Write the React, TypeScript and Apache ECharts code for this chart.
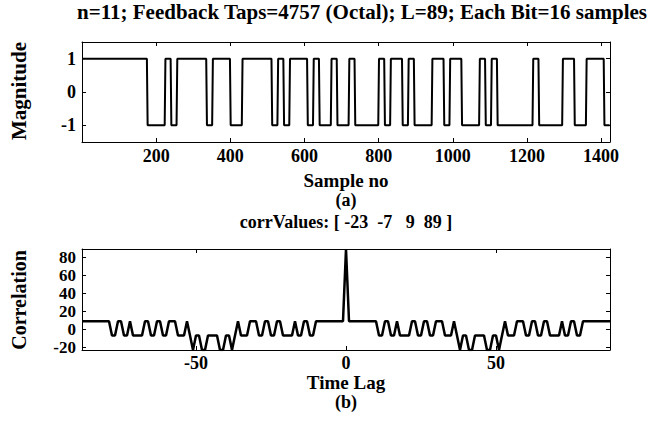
import React, { useEffect, useRef } from "react";
import * as echarts from "echarts";

// ---- data ----
const SAMPLES_PER_BIT = 16;
// 89 chips of the sequence (+1 / -1)
const bits: number[] = [
  1, 1, 1, 1, 1, 1, 1, 1, 1, 1, 1,
  -1, -1, -1,
  1,
  -1,
  1, 1, 1, 1, 1,
  -1,
  1, 1, 1,
  -1, -1,
  1, 1, 1, 1, 1,
  -1,
  1,
  -1,
  1, 1, 1,
  -1,
  1,
  -1, -1,
  1,
  -1, -1,
  1,
  -1, -1, -1, -1,
  1,
  -1,
  1, 1,
  -1,
  1,
  -1, -1, -1,
  1, 1,
  -1,
  1, 1,
  -1, -1, -1,
  1,
  -1,
  1,
  -1, -1, -1, -1, -1, -1,
  1,
  -1, -1, -1, -1,
  1, 1,
  -1, -1,
  1, 1, 1,
  -1,
];

// circular correlation value for lag 0..88
const corrByLag: number[] = [
  89,
  9, 9, 9, 9, 9, 9, 9, 9, 9, 9,
  -7, -7, 9, 9, -7, -7, 9, -7, -7,
  -7, -7, 9, 9, -7, -7, 9, 9, -7, -7,
  9, 9, 9, -7, -7, -7, 9, -7, -23, -7,
  -7, -23, -23, -7, -7, -7, -7, -23, -23, -7,
  -7, -23, -7, 9, -7, -7, -7, 9, 9, 9,
  -7, -7, 9, 9, -7, -7, 9, 9, -7, -7,
  -7, -7, 9, -7, -7, 9, 9, -7, -7, 9,
  9, 9, 9, 9, 9, 9, 9, 9, 9,
];
const maxLag = 88;

const mainTitle = "n=11; Feedback Taps=4757 (Octal); L=89; Each Bit=16 samples";
const corrTitle = "corrValues: [ -23\u00a0\u00a0-7\u00a0\u00a0\u00a09\u00a0\u00a089 ]";
const xLabelA = "Sample no";
const yLabelA = "Magnitude";
const capA = "(a)";
const xLabelB = "Time Lag";
const yLabelB = "Correlation";
const capB = "(b)";

const FONT = "'Liberation Serif', 'Times New Roman', serif";

export default function App() {
  const ref = useRef<HTMLDivElement>(null);

  useEffect(() => {
    if (!ref.current) return;
    const chart = echarts.init(ref.current, undefined, { renderer: "svg" });

    const sig: number[][] = [];
    bits.forEach((v, k) => {
      for (let j = 0; j < SAMPLES_PER_BIT; j++) sig.push([k * SAMPLES_PER_BIT + j + 1, v]);
    });
    const corr: number[][] = [];
    for (let L = -maxLag; L <= maxLag; L++) corr.push([L, corrByLag[Math.abs(L)]]);

    const lbl = {
      color: "#000",
      fontFamily: FONT,
      fontWeight: "bold" as const,
      fontSize: 18,
      lineHeight: 16,
    };
    const line = { show: true, onZero: false, lineStyle: { color: "#000", width: 1 } };
    const tick = { show: true, inside: true, length: 4, lineStyle: { color: "#000", width: 1 } };
    const noSplit = { show: false };

    const text = (
      t: string,
      x: number,
      y: number,
      size: number,
      rot = 0
    ) => ({
      type: "text",
      x,
      y,
      rotation: rot,
      silent: true,
      style: {
        text: t,
        fill: "#000",
        fontFamily: FONT,
        fontWeight: "bold",
        fontSize: size,
        lineHeight: Math.round(size * 0.85),
        textAlign: "center",
        align: "center",
        textVerticalAlign: "middle",
        verticalAlign: "middle",
      },
    });

    chart.setOption({
      animation: false,
      backgroundColor: "#fff",
      grid: [
        { left: 82, top: 42, width: 528, height: 100 },
        { left: 82, top: 249, width: 528, height: 101 },
      ],
      xAxis: [
        {
          gridIndex: 0, type: "value", min: 0, max: 1424, interval: 200, position: "bottom",
          axisLine: line, axisTick: tick, splitLine: noSplit,
          axisLabel: { ...lbl, margin: 6, formatter: (v: number) => (v > 0 && v % 200 === 0 ? String(v) : "") },
        },
        {
          gridIndex: 0, type: "value", min: 0, max: 1424, interval: 200, position: "top",
          axisLine: line, axisTick: tick, splitLine: noSplit, axisLabel: { show: false },
        },
        {
          gridIndex: 1, type: "value", min: -88, max: 88, splitNumber: 3, position: "bottom",
          axisLine: line, axisTick: tick, splitLine: noSplit,
          axisLabel: { ...lbl, margin: 5, formatter: (v: number) => (v % 50 === 0 ? String(v) : "") },
        },
        {
          gridIndex: 1, type: "value", min: -88, max: 88, splitNumber: 3, position: "top",
          axisLine: line, axisTick: tick, splitLine: noSplit, axisLabel: { show: false },
        },
      ],
      yAxis: [
        {
          gridIndex: 0, type: "value", min: -1.5, max: 1.5, splitNumber: 3, position: "left",
          axisLine: line, axisTick: tick, splitLine: noSplit,
          axisLabel: { ...lbl, margin: 6, formatter: (v: number) => (Number.isInteger(v) ? String(v) : "") },
        },
        {
          gridIndex: 0, type: "value", min: -1.5, max: 1.5, splitNumber: 3, position: "right",
          axisLine: line, axisTick: tick, splitLine: noSplit, axisLabel: { show: false },
        },
        {
          gridIndex: 1, type: "value", min: -23, max: 89, splitNumber: 6, position: "left",
          axisLine: line, axisTick: tick, splitLine: noSplit,
          axisLabel: {
            ...lbl, fontSize: 17, lineHeight: 15, margin: 6,
            formatter: (v: number) => (v % 20 === 0 ? String(v) : ""),
          },
        },
        {
          gridIndex: 1, type: "value", min: -23, max: 89, splitNumber: 6, position: "right",
          axisLine: line, axisTick: tick, splitLine: noSplit, axisLabel: { show: false },
        },
      ],
      series: [
        {
          type: "line", xAxisIndex: 0, yAxisIndex: 0, data: sig, symbol: "none",
          lineStyle: { color: "#000", width: 2 }, silent: true,
        },
        {
          type: "line", xAxisIndex: 2, yAxisIndex: 2, data: corr, symbol: "none",
          lineStyle: { color: "#000", width: 2.5 }, silent: true,
        },
      ],
      graphic: [
        text(mainTitle, 362, 12, 21),
        text(yLabelA, 19, 91, 21, Math.PI / 2),
        text(xLabelA, 346, 180, 19),
        text(capA, 346, 200, 18),
        text(corrTitle, 346, 222, 18),
        text(yLabelB, 19, 300, 20, Math.PI / 2),
        text(xLabelB, 346, 382, 19),
        text(capB, 346, 402, 18),
      ],
    });

    return () => chart.dispose();
  }, []);

  return (
    <div
      ref={ref}
      style={{ position: "fixed", left: 0, top: 0, width: 662, height: 421, background: "#fff" }}
    />
  );
}
